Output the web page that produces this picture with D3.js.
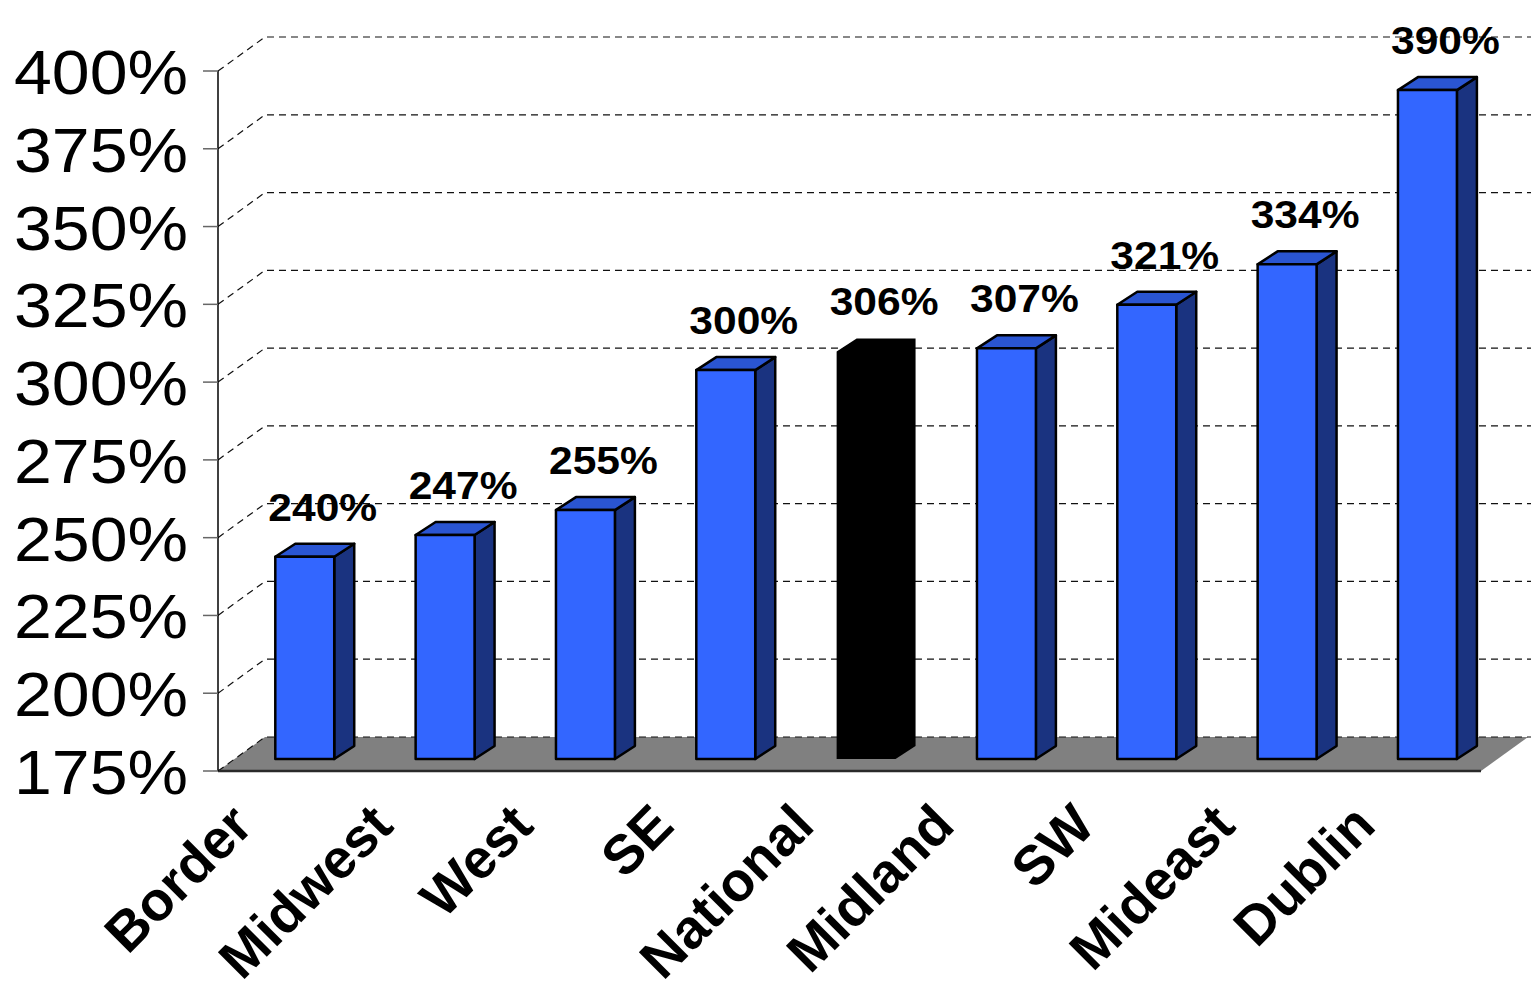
<!DOCTYPE html>
<html>
<head>
<meta charset="utf-8">
<script src="https://cdn.jsdelivr.net/npm/d3@7"></script>
<style>
  html, body { margin: 0; padding: 0; background: #fff; }
  svg { display: block; }
  text { font-family: "Liberation Sans", Arial, sans-serif; }
</style>
</head>
<body>
<svg id="chart" width="1531" height="992"></svg>
<script>
// Regions, in display order, with their percentage values
const categories = ["Border", "Midwest", "West", "SE", "National", "Midland", "SW", "Mideast", "Dublin"];
const values = [240, 247, 255, 300, 306, 307, 321, 334, 390];
const highlighted = ["National"];
const yTicks = [175, 200, 225, 250, 275, 300, 325, 350, 375, 400];

const svg = d3.select("#chart");

// Front plane of the plot (axis plane)
const x0 = 218, x1 = 1481, yBottom = 771, yTop = 71;
// Offset from front plane to the back wall
const wall = { dx: 47, dy: -34 };
// Bars stand part-way into the floor, with their own depth
const barShift = { dx: 16.6, dy: -12 };
const barDepth = { dx: 20, dy: -13 };

const x = d3.scaleBand().domain(categories).range([x0, x1]).paddingInner(0.58).paddingOuter(0.29);
const y = d3.scaleLinear().domain([175, 400]).range([yBottom, yTop]);

// Floor
svg.append("path")
  .attr("d", `M${x0},${yBottom} L${x1},${yBottom} L${x1 + wall.dx},${yBottom + wall.dy} L${x0 + wall.dx},${yBottom + wall.dy} Z`)
  .attr("fill", "#808080");

// Gridlines: a slanted segment from the axis to the back wall, then along the wall
const grid = svg.append("g")
  .attr("fill", "none")
  .attr("stroke", "#111")
  .attr("stroke-width", 1.2)
  .attr("stroke-dasharray", "7,5");
yTicks.forEach(t => {
  const yy = y(t);
  grid.append("path")
    .attr("d", `M${x0},${yy} L${x0 + wall.dx},${yy + wall.dy} L1531,${yy + wall.dy}`);
});

// Floor front edge
svg.append("line")
  .attr("x1", x0).attr("x2", x1).attr("y1", yBottom).attr("y2", yBottom)
  .attr("stroke", "#2a2a2a").attr("stroke-width", 2.5);

// Value axis line and ticks
svg.append("line")
  .attr("x1", x0).attr("x2", x0).attr("y1", yTop).attr("y2", yBottom)
  .attr("stroke", "#000").attr("stroke-width", 1.5);
svg.append("g").selectAll("line").data(yTicks).join("line")
  .attr("x1", 203).attr("x2", x0)
  .attr("y1", d => y(d)).attr("y2", d => y(d))
  .attr("stroke", "#666").attr("stroke-width", 1.5);

// Value axis labels
svg.append("g").selectAll("text").data(yTicks).join("text")
  .attr("transform", d => `translate(188,${y(d) + 23}) scale(1.08,1)`)
  .attr("text-anchor", "end")
  .attr("font-size", 63)
  .attr("fill", "#000")
  .text(d => d + "%");

// 3D bars
const bars = svg.append("g");
const outline = s => s.attr("stroke", "#000").attr("stroke-width", 2.5).attr("stroke-linejoin", "round");
categories.forEach((c, i) => {
  const v = values[i];
  const left = x(c) + barShift.dx;
  const right = left + x.bandwidth();
  const bottom = y(175) + barShift.dy;
  const top = y(v) + barShift.dy;
  const dx = barDepth.dx, dy = barDepth.dy;
  const g = bars.append("g");
  if (highlighted.includes(c)) {
    // solid black block, no outline
    g.append("path")
      .attr("d", `M${left},${bottom} L${left},${top} L${left + dx},${top + dy} L${right + dx},${top + dy} L${right + dx},${bottom + dy} L${right},${bottom} Z`)
      .attr("fill", "#000");
  } else {
    g.append("path") // side
      .attr("d", `M${right},${bottom} L${right},${top} L${right + dx},${top + dy} L${right + dx},${bottom + dy} Z`)
      .attr("fill", "#1a3380").call(outline);
    g.append("path") // top
      .attr("d", `M${left},${top} L${left + dx},${top + dy} L${right + dx},${top + dy} L${right},${top} Z`)
      .attr("fill", "#2a55d2").call(outline);
    g.append("rect") // front
      .attr("x", left).attr("y", top)
      .attr("width", right - left).attr("height", bottom - top)
      .attr("fill", "#3366ff").call(outline);
  }
});

// Value labels above bars
svg.append("g").selectAll("text").data(categories).join("text")
  .attr("transform", (c, i) => {
    const cx = x(c) + barShift.dx + x.bandwidth() / 2 + 18;
    const ty = y(values[i]) + barShift.dy - 36;
    return `translate(${cx},${ty}) scale(1.12,1)`;
  })
  .attr("text-anchor", "middle")
  .attr("font-size", 38)
  .attr("font-weight", "bold")
  .attr("fill", "#000")
  .text((c, i) => values[i] + "%");

// Category labels, slanted
svg.append("g").selectAll("text").data(categories).join("text")
  .attr("transform", c => `translate(${x(c) + x.bandwidth() / 2 - 33},${828}) rotate(-45)`)
  .attr("text-anchor", "end")
  .attr("font-size", 55)
  .attr("font-weight", "bold")
  .attr("fill", "#000")
  .text(c => c);
</script>
</body>
</html>
